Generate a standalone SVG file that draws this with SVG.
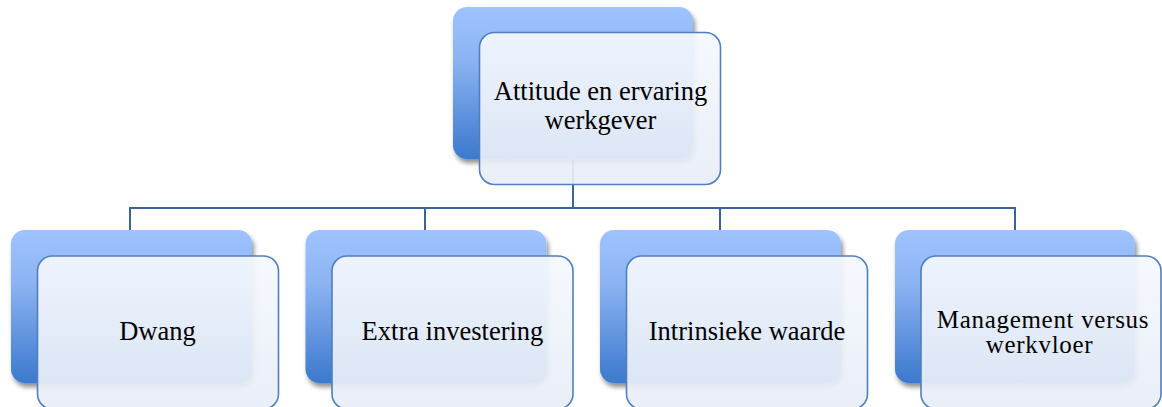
<svg xmlns="http://www.w3.org/2000/svg" width="1162" height="407" viewBox="0 0 1162 407">
  <defs>
    <linearGradient id="backFill" x1="0" y1="0" x2="0" y2="1">
      <stop offset="0" stop-color="#9EC3FF"/>
      <stop offset="0.35" stop-color="#8CB3F2"/>
      <stop offset="1" stop-color="#3B79CD"/>
    </linearGradient>
    <linearGradient id="frontFill" x1="0" y1="0" x2="0" y2="1">
      <stop offset="0" stop-color="#F5F8FE"/>
      <stop offset="1" stop-color="#E7EDF7"/>
    </linearGradient>
    <filter id="shadow" x="-10%" y="-10%" width="125%" height="130%">
      <feGaussianBlur in="SourceAlpha" stdDeviation="2.5"/>
      <feOffset dx="2" dy="4" result="b"/>
      <feComponentTransfer><feFuncA type="linear" slope="0.45"/></feComponentTransfer>
      <feMerge><feMergeNode/><feMergeNode in="SourceGraphic"/></feMerge>
    </filter>
  </defs>
  <style>
    .back { fill: url(#backFill); filter: url(#shadow); }
    .front { fill: url(#frontFill); fill-opacity: 0.92; stroke: #4F7FBC; stroke-width: 1.6; }
    .conn { fill: none; stroke: #3A6498; stroke-width: 2; }
    text { font-family: "Liberation Serif", "Times New Roman", serif; font-size: 26.5px; fill: #000; text-anchor: middle; }
    .narrow { font-size: 25px; letter-spacing: 0.7px; }
  </style>

  <g id="connectors">
    <path class="conn" d="M573,159 V208 M130,208 H1015 M130,207 V231 M425,207 V231 M720,207 V231 M1015,207 V231"/>
  </g>

  <g id="node-top">
    <rect class="back" x="453" y="7" width="240" height="152" rx="14"/>
    <rect class="front" x="479.5" y="32.5" width="241" height="152" rx="15"/>
    <text x="600.5" y="100">Attitude en ervaring</text>
    <text x="600.5" y="128.5">werkgever</text>
  </g>

  <g id="node-dwang">
    <rect class="back" x="11" y="230" width="241" height="153" rx="14"/>
    <rect class="front" x="37.5" y="256" width="241" height="153" rx="15"/>
    <text x="157.5" y="340">Dwang</text>
  </g>

  <g id="node-extra">
    <rect class="back" x="305.5" y="230" width="241" height="153" rx="14"/>
    <rect class="front" x="332" y="256" width="241" height="153" rx="15"/>
    <text x="452.5" y="340">Extra investering</text>
  </g>

  <g id="node-intrinsiek">
    <rect class="back" x="600" y="230" width="241" height="153" rx="14"/>
    <rect class="front" x="626.5" y="256" width="241" height="153" rx="15"/>
    <text x="747" y="340">Intrinsieke waarde</text>
  </g>

  <g id="node-management">
    <rect class="back" x="895" y="230" width="240" height="153" rx="14"/>
    <rect class="front" x="921" y="256" width="240" height="153" rx="15"/>
    <text class="narrow" x="1043" y="328">Management versus</text>
    <text class="narrow" x="1039.5" y="353">werkvloer</text>
  </g>
</svg>
